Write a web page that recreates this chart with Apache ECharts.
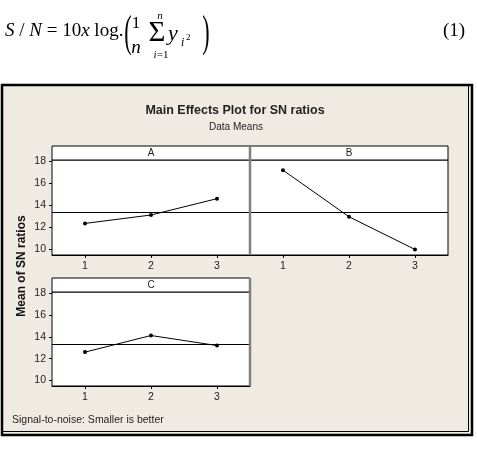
<!DOCTYPE html>
<html>
<head>
<meta charset="utf-8">
<script src="https://cdn.jsdelivr.net/npm/echarts@6/dist/echarts.min.js"></script>
<style>
  html, body { margin: 0; padding: 0; background: #fff; }
  #chart { width: 477px; height: 450px; }
</style>
</head>
<body>
<div id="chart"></div>
<script>
// levels of each factor
const levels = ['1', '2', '3']
// mean S/N ratio per level
const meansA = [12.36, 13.12, 14.6]
const meansB = [17.18, 12.96, 10.0]
const meansC = [12.6, 14.12, 13.2]
const panelNames = ['A', 'B', 'C']
const yTicks = [10, 12, 14, 16, 18]

const allMeans = meansA.concat(meansB, meansC)
const grandMean = allMeans.reduce((s, v) => s + v, 0) / allMeans.length

const chart = echarts.init(document.getElementById('chart'))

const sans = 'Liberation Sans'
const serif = 'Liberation Serif'

const grids = [
  { left: 52, top: 160, width: 198, height: 95 },
  { left: 250, top: 160, width: 198, height: 95 },
  { left: 52, top: 292, width: 198, height: 94 },
]

function xAxisFor(i) {
  return {
    type: 'category',
    gridIndex: i,
    data: levels,
    boundaryGap: true,
    axisLine: { show: true, lineStyle: { color: '#000', width: 1 } },
    axisTick: { show: true, alignWithLabel: true, length: 3, lineStyle: { color: '#000' } },
    axisLabel: { fontFamily: sans, fontSize: 10.5, color: '#222', margin: 6 },
    splitLine: { show: false },
  }
}

function yAxisFor(i, labels) {
  return {
    type: 'value',
    gridIndex: i,
    min: 9.5,
    max: 18.1,
    axisLine: { show: false },
    axisTick: {
      show: labels,
      length: 3,
      customValues: yTicks,
      lineStyle: { color: '#000' },
    },
    axisLabel: {
      show: labels,
      customValues: yTicks,
      fontFamily: sans,
      fontSize: 10.5,
      color: '#222',
      margin: 6,
    },
    splitLine: { show: false },
  }
}

function seriesFor(i, data) {
  return {
    type: 'line',
    xAxisIndex: i,
    yAxisIndex: i,
    data: data,
    symbol: 'circle',
    symbolSize: 4,
    itemStyle: { color: '#000' },
    lineStyle: { color: '#000', width: 1 },
    silent: true,
    markLine: {
      silent: true,
      symbol: 'none',
      label: { show: false },
      lineStyle: { color: '#000', width: 1, type: 'solid' },
      data: [{ yAxis: grandMean }],
    },
  }
}

// strip headers and panel edges
const strips = []
grids.forEach((g, i) => {
  strips.push({
    type: 'rect',
    shape: { x: g.left, y: g.top - 14, width: g.width, height: 14 },
    style: { fill: '#fff', stroke: '#000', lineWidth: 1 },
  })
  strips.push({
    type: 'text',
    style: {
      text: panelNames[i],
      x: g.left + g.width / 2,
      y: g.top - 7,
      font: '10px ' + sans,
      fill: '#222',
      textAlign: 'center',
      textVerticalAlign: 'middle',
      align: 'center',
      verticalAlign: 'middle',
    },
  })
})

function txt(text, x, y, font, extra) {
  return {
    type: 'text',
    style: Object.assign({
      text: text,
      x: x,
      y: y,
      font: font,
      fill: '#000',
      textVerticalAlign: 'middle',
      verticalAlign: 'middle',
    }, extra || {}),
  }
}

const mid = { textAlign: 'center', align: 'center' }

const formula = [
  {
    type: 'text',
    style: {
      text: '{i|S} / {i|N} = 10{i|x} log.',
      x: 5,
      y: 31,
      font: '19px ' + serif,
      fill: '#000',
      textVerticalAlign: 'middle',
      verticalAlign: 'middle',
      rich: { i: { fontStyle: 'italic', fontFamily: serif, fontSize: 19 } },
    },
  },
  Object.assign(txt('(', 0, 0, '300 44px ' + serif, mid), { x: 128, y: 34, scaleX: 0.5 }),
  txt('1', 136, 24, '17px ' + serif, mid),
  txt('n', 136, 48, 'italic 19px ' + serif, mid),
  txt('\u03a3', 157, 33, '29px ' + serif, mid),
  txt('n', 160, 16, 'italic 11px ' + serif, mid),
  {
    type: 'text',
    style: {
      text: '{i|i}=1',
      x: 161,
      y: 55,
      font: '11px ' + serif,
      fill: '#000',
      textAlign: 'center',
      align: 'center',
      textVerticalAlign: 'middle',
      verticalAlign: 'middle',
      rich: { i: { fontStyle: 'italic', fontFamily: serif, fontSize: 11 } },
    },
  },
  txt('y', 168, 34, 'italic 22px ' + serif),
  txt('i', 181, 43, 'italic 12px ' + serif),
  txt('2', 186, 38, '9px ' + serif),
  Object.assign(txt(')', 0, 0, '300 44px ' + serif, mid), { x: 206, y: 34, scaleX: 0.5 }),
  txt('(1)', 443, 31, '19px ' + serif),
]

const frame = [
  {
    type: 'rect',
    z: -10,
    shape: { x: 2, y: 85, width: 470, height: 350 },
    style: { fill: '#EFEBE3', stroke: '#000', lineWidth: 2.5 },
  },
  {
    type: 'polyline',
    shape: { points: [[468.5, 86], [468.5, 431.5], [3, 431.5]] },
    style: { fill: 'none', stroke: '#000', lineWidth: 1 },
  },
]

const edges = [
  { type: 'line', z: 20, shape: { x1: 250, y1: 146, x2: 250, y2: 255 }, style: { stroke: '#808080', lineWidth: 2.5 } },
  { type: 'line', z: 20, shape: { x1: 250, y1: 278, x2: 250, y2: 386 }, style: { stroke: '#808080', lineWidth: 2.5 } },
]

const labels = [
  {
    type: 'text',
    style: {
      text: 'Main Effects Plot for SN ratios',
      x: 235,
      y: 111,
      font: 'bold 12.5px ' + sans,
      fill: '#222',
      textAlign: 'center',
      align: 'center',
      textVerticalAlign: 'middle',
      verticalAlign: 'middle',
    },
  },
  {
    type: 'text',
    style: {
      text: 'Data Means',
      x: 236,
      y: 127,
      font: '10px ' + sans,
      fill: '#222',
      textAlign: 'center',
      align: 'center',
      textVerticalAlign: 'middle',
      verticalAlign: 'middle',
    },
  },
  {
    type: 'text',
    x: 22,
    y: 266,
    rotation: Math.PI / 2,
    style: {
      text: 'Mean of SN ratios',
      x: 0,
      y: 0,
      font: 'bold 12px ' + sans,
      fill: '#111',
      textAlign: 'center',
      align: 'center',
      textVerticalAlign: 'middle',
      verticalAlign: 'middle',
    },
  },
  {
    type: 'text',
    style: {
      text: 'Signal-to-noise: Smaller is better',
      x: 12,
      y: 420,
      font: '10.5px ' + sans,
      fill: '#222',
      textVerticalAlign: 'middle',
      verticalAlign: 'middle',
    },
  },
]

const option = {
  animation: false,
  backgroundColor: '#fff',
  grid: grids.map(g => Object.assign({
    show: true,
    backgroundColor: '#fff',
    borderColor: '#000',
    borderWidth: 1,
  }, g)),
  xAxis: [xAxisFor(0), xAxisFor(1), xAxisFor(2)],
  yAxis: [yAxisFor(0, true), yAxisFor(1, false), yAxisFor(2, true)],
  series: [seriesFor(0, meansA), seriesFor(1, meansB), seriesFor(2, meansC)],
  graphic: frame.concat(strips, edges, labels, formula),
}

chart.setOption(option)
</script>
</body>
</html>
